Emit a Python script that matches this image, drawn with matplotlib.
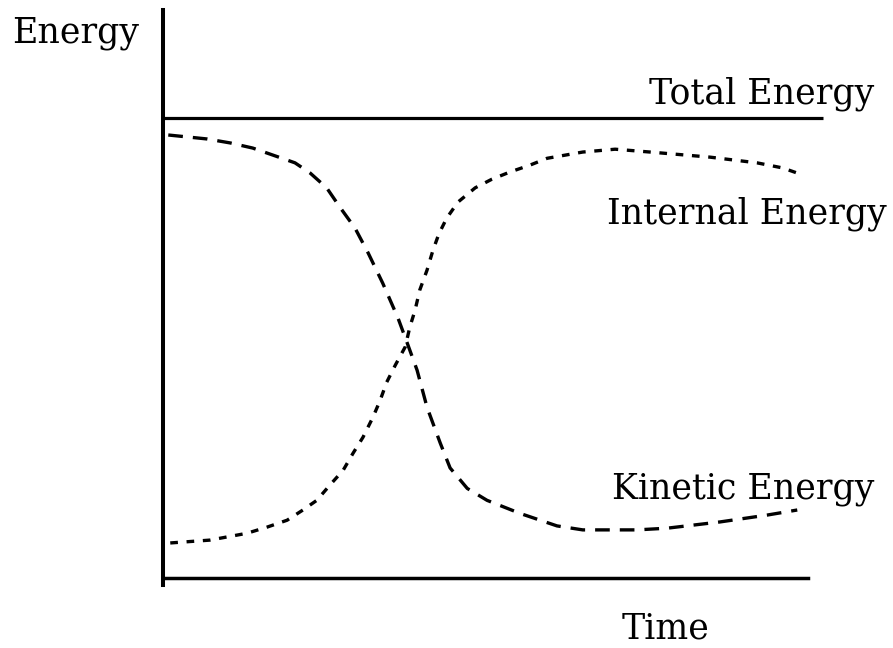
import matplotlib
matplotlib.use("Agg")
import matplotlib.pyplot as plt

# values (time and energy in arbitrary 0-100 units)
total_energy = 81.0

kinetic_t = [0.8, 6.7, 10.2, 13.6, 17.3, 20.0, 22.3, 24.8, 26.8, 29.1, 31.1, 33.3,
             35.6, 37.0, 38.5, 40.0, 42.0, 43.5, 46.1, 49.1, 54.1, 59.7, 63.6, 71.8,
             76.4, 84.4, 91.5, 96.1]
kinetic_e = [78.0, 77.3, 76.6, 75.7, 74.2, 73.1, 71.3, 68.7, 65.3, 61.6, 57.2, 51.9,
             45.8, 41.4, 36.6, 30.1, 23.8, 19.4, 15.8, 13.7, 11.4, 9.2, 8.5, 8.5,
             8.8, 9.9, 11.1, 12.0]

internal_t = [1.1, 7.1, 12.7, 15.8, 18.8, 21.2, 23.3, 25.3, 27.3, 28.8, 30.3, 31.8,
              32.9, 33.9, 35.2, 36.7, 37.4, 38.2, 38.9, 40.0, 40.9, 41.8, 43.0, 44.7,
              47.3, 49.8, 52.6, 55.6, 58.2, 63.6, 68.5, 73.8, 82.9, 90.0, 93.9, 96.1]
internal_e = [6.2, 6.7, 7.9, 9.0, 10.2, 12.0, 13.7, 16.4, 19.0, 22.0, 24.8, 28.3,
              31.3, 34.5, 37.5, 40.7, 44.2, 47.2, 50.7, 54.2, 57.7, 60.6, 63.4, 66.2,
              68.7, 70.2, 71.5, 72.7, 73.9, 75.0, 75.5, 75.0, 74.1, 73.1, 72.2, 71.3]

labels = {
    "Energy": (-22.9, 94.2),
    "Total Energy": (73.6, 83.6),
    "Internal Energy": (67.3, 62.5),
    "Kinetic Energy": (68.0, 14.1),
    "Time": (69.5, -10.6),
}

W, H = 893, 648
fig = plt.figure(figsize=(W / 100, H / 100), dpi=100)
ax = fig.add_axes([163 / W, (648 - 585) / H, (823 - 163) / W, (585 - 10) / H])
ax.set_xlim(0, 100)
ax.set_ylim(-1.2, 100)

for s in ["top", "right"]:
    ax.spines[s].set_visible(False)
ax.spines["left"].set_linewidth(2.9)
ax.spines["bottom"].set_linewidth(2.5)
ax.spines["bottom"].set_position(("data", 0))
ax.spines["bottom"].set_bounds(0, 97.7)
ax.set_xticks([])
ax.set_yticks([])

ax.plot([0, 100], [total_energy, total_energy], color="black", lw=2.3,
        solid_capstyle="butt", clip_on=False)
ax.plot(kinetic_t, kinetic_e, color="black", lw=2.4, dashes=(4.4, 3.0),
        clip_on=False)
ax.plot(internal_t, internal_e, color="black", lw=2.4, dashes=(2.3, 2.6),
        clip_on=False)

for text, (x, y) in labels.items():
    ax.text(x, y, text, family="DejaVu Serif", fontsize=25, ha="left",
            va="baseline", color="black", clip_on=False)

fig.savefig("out.png", dpi=100, facecolor="white")
